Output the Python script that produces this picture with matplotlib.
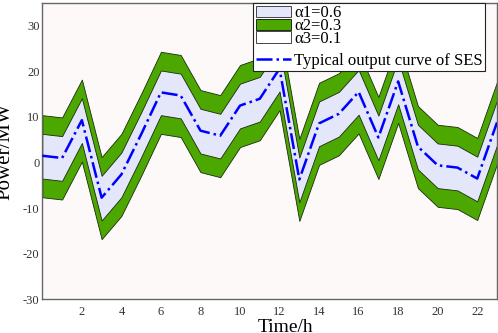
import numpy as np
import matplotlib
matplotlib.use('agg')
import matplotlib.pyplot as plt
from matplotlib.patches import Patch
from matplotlib.lines import Line2D

# hours and typical SES output (MW)
hours = list(range(24))
ses = [1.5, 1.0, 9.3, -7.7, -2.6, 6.2, 15.4, 14.7, 7.0, 5.9, 12.5, 14.0,
       20.6, -3.7, 8.6, 10.7, 15.5, 5.5, 17.8, 3.5, -0.6, -1.1, -3.5, 8.8]
# band half widths (MW) for the confidence levels
alpha1_up = 4.8
alpha1_dn = 5.0
alpha2_up = 8.9
alpha2_dn = 9.1
labels = ['\u03b11=0.6', '\u03b12=0.3', '\u03b13=0.1', 'Typical output curve of SES']

x = np.array(hours)
y = np.array(ses)

plt.rcParams['font.family'] = ['Liberation Serif', 'DejaVu Serif']
plt.rcParams['axes.unicode_minus'] = False
fig = plt.figure(figsize=(4.98, 3.33), dpi=100)
ax = fig.add_axes([0.085, 0.101, 0.913, 0.89])
ax.set_facecolor('#fdf9f8')

green = '#4ca800'
lav = '#e4e6f9'
ax.fill_between(x, y - alpha2_dn, y + alpha2_up, facecolor=green, edgecolor='#1a2a10', linewidth=0.6, zorder=1)
ax.fill_between(x, y - alpha1_dn, y + alpha1_up, facecolor=lav, edgecolor='#1a2a10', linewidth=0.6, zorder=2)
ax.plot(x, y, color='#0000ff', linestyle='-.', linewidth=1.8, zorder=3)

ax.set_xlim(0, 23)
ax.set_ylim(-30, 35)
ax.set_xticks(range(2, 23, 2))
ax.set_yticks(range(-30, 31, 10))
ax.tick_params(length=0, labelsize=9, colors='#333333')
ax.tick_params(axis='x', pad=5)
ax.tick_params(axis='y', pad=2)
for s in ax.spines.values():
    s.set_color('#666666')
    s.set_linewidth(1.0)

ax.set_xlabel('Time/h', fontsize=14)
ax.xaxis.set_label_coords(0.535, -0.065)
ax.set_ylabel('Power/MW', fontsize=15)
ax.yaxis.set_label_coords(-0.062, 0.5)

handles = [Patch(facecolor=lav, edgecolor='#444444', linewidth=0.7),
           Patch(facecolor=green, edgecolor='#1a2a10', linewidth=0.7),
           Patch(facecolor='white', edgecolor='#444444', linewidth=0.7),
           Line2D([], [], color='none'),
           Line2D([], [], color='#0000ff', linestyle='-.', linewidth=1.8)]
leg = ax.legend(handles, labels[:3] + [' '] + labels[3:], loc='upper right',
                bbox_to_anchor=(0.974, 1.0), borderaxespad=0, fontsize=12,
                labelspacing=-0.2, handlelength=2.1, handleheight=0.65,
                handletextpad=0.2, borderpad=0.15, fancybox=False,
                framealpha=1, edgecolor='#222222')
leg.get_texts()[3].set_fontsize(4)
leg.get_frame().set_linewidth(0.8)

fig.savefig('out.png', dpi=100)
